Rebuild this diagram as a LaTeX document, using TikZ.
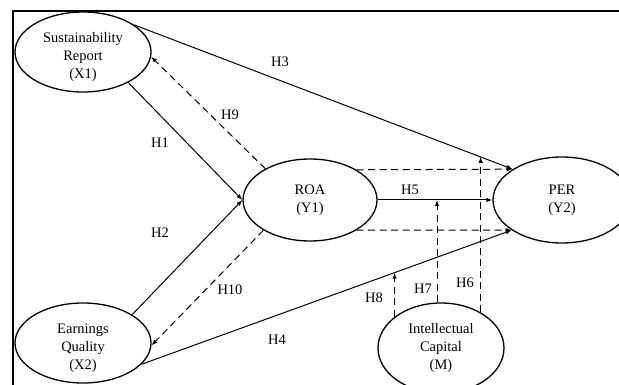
\documentclass[tikz,border=0pt]{standalone}
\usepackage{fontspec}
\setmainfont{Liberation Serif}
\usetikzlibrary{arrows.meta,shapes.geometric}
\begin{document}
\begin{tikzpicture}[x=1pt,y=-1pt,
  construct/.style={draw, ellipse, line width=1.3pt, inner sep=0pt, align=center,
    font=\fontsize{14.5}{18}\selectfont},
  lowtext/.style={inner ysep=-4pt},
  effect/.style={line width=1pt, -{Latex[length=6pt,width=4.5pt]}},
  moder/.style={effect, dash pattern=on 7pt off 4.5pt},
  hyp/.style={inner sep=0pt, font=\fontsize{14.5}{18}\selectfont}]
\useasboundingbox (0,0) rectangle (619,385);

% frame
\draw[line width=1.5pt] (619,11) -- (13,11) -- (13,385);

% constructs (the strut sets the three-line labels a little low in their ellipses)
\node[construct, lowtext, minimum width=136pt, minimum height=80pt] (x1) at (83,52)
  {\rule{0pt}{20pt}Sustainability\\Report\\(X1)};
\node[construct, lowtext, minimum width=136pt, minimum height=80pt] (x2) at (83,343)
  {\rule{0pt}{20pt}Earnings\\Quality\\(X2)};
\node[construct, minimum width=134pt, minimum height=82pt] (roa) at (310,200) {ROA\\(Y1)};
\node[construct, minimum width=138pt, minimum height=86pt] (per) at (562,200) {PER\\(Y2)};
\node[construct, minimum width=126pt, minimum height=90pt] (ic) at (441,348) {Intellectual\\Capital\\(M)};

% direct effects
\draw[effect] (x1.-34) -- (roa.west);
\draw[effect] (x2.30) -- (roa.west);
\draw[effect] (x1.28) -- coordinate[pos=0.914] (m6) (per.148.7);
\draw[effect] (x2.-20) -- coordinate[pos=0.6835] (m8) (per.211.3);
\draw[effect] (roa.east) -- (per.west);

% mediation paths
\draw[moder] (roa.33.3) -- (per.148.7);
\draw[moder] (roa.-33.3) -- (per.211.3);
\draw[moder] (roa.145) -- (x1.-4);
\draw[moder] (roa.213) -- (x2.-2);

% moderation by intellectual capital
\draw[moder] (ic.42) -- (ic.42 |- m6);
\draw[moder] (ic.95) -- (ic.95 |- per.west);
\draw[moder] (ic.146) -- (ic.146 |- m8);

% hypothesis labels
\node[hyp] (h1) at (160,143) {H1};
\node[hyp] (h2) at (160,233) {H2};
\node[hyp] (h3) at (280,62) {H3};
\node[hyp] (h4) at (277,340) {H4};
\node[hyp] (h5) at (410,190) {H5};
\node[hyp] (h6) at (465,283) {H6};
\node[hyp] (h7) at (423,289) {H7};
\node[hyp] (h8) at (374,298) {H8};
\node[hyp] (h9) at (230,115) {H9};
\node[hyp] (h10) at (230,290) {H10};
\end{tikzpicture}
\end{document}
